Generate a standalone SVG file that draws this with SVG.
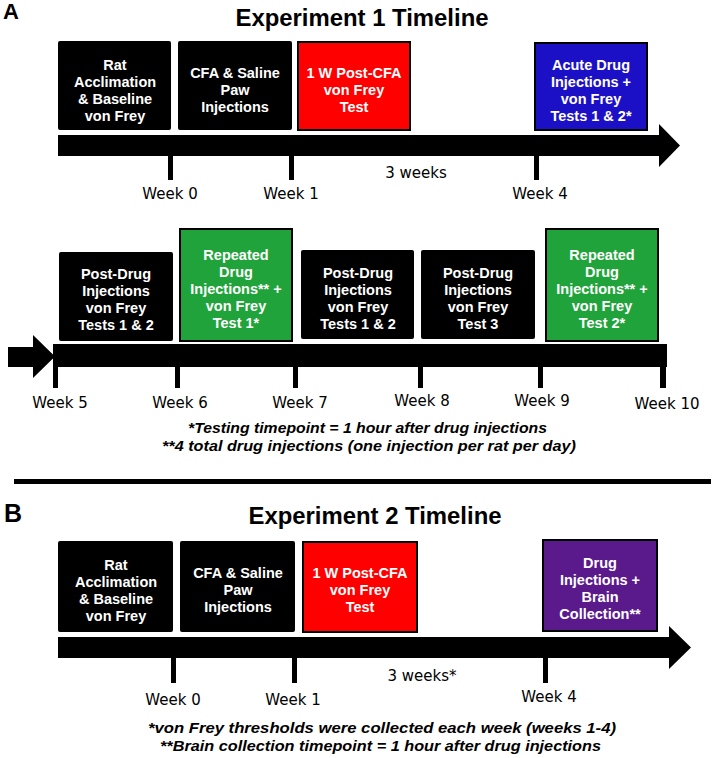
<svg xmlns="http://www.w3.org/2000/svg" width="714" height="758" viewBox="0 0 714 758">
<style>
.bg{fill:#fff}
.box{stroke:#000;stroke-width:2}
.blk{fill:#000}
.red{fill:#fe0000}
.blue{fill:#1c10c6}
.green{fill:#21a33b}
.purple{fill:#5a1a8c}
.bt{font-family:"Liberation Sans",Arial,sans-serif;font-weight:bold;font-size:14.5px;fill:#fff;text-anchor:middle}
.title{font-family:"Liberation Sans",Arial,sans-serif;font-weight:bold;font-size:24px;fill:#000;text-anchor:middle}
.panel{font-family:"Liberation Sans",Arial,sans-serif;font-weight:bold;fill:#000}
.wk{font-family:"DejaVu Sans",sans-serif;font-size:15px;fill:#000;text-anchor:middle}
.fn{font-family:"Liberation Sans",Arial,sans-serif;font-weight:bold;font-style:italic;font-size:15.5px;fill:#000;text-anchor:middle}
.tl{fill:#000}
</style>
<rect class="bg" x="0" y="0" width="714" height="758"/>

<!-- Panel A -->
<text class="panel" x="3" y="19" font-size="22">A</text>
<text class="title" x="362" y="26" textLength="253" lengthAdjust="spacingAndGlyphs">Experiment 1 Timeline</text>

<g id="connectors">
  <!-- A row 1 timeline -->
  <polygon class="tl" points="58,135 659,135 659,124 680,145.5 659,167 659,156 58,156"/>
  <rect class="tl" x="168" y="155" width="5" height="25"/>
  <rect class="tl" x="289" y="155" width="5" height="25"/>
  <rect class="tl" x="534" y="155" width="5" height="25"/>
  <!-- A row 2 timeline -->
  <polygon class="tl" points="8,347 33,347 33,335 55,356.5 33,378 33,367 8,367"/>
  <rect class="tl" x="53" y="344" width="614" height="23"/>
  <rect class="tl" x="53" y="366" width="5" height="22"/>
  <rect class="tl" x="175" y="366" width="5" height="22"/>
  <rect class="tl" x="293" y="366" width="5" height="22"/>
  <rect class="tl" x="418" y="366" width="5" height="22"/>
  <rect class="tl" x="538" y="366" width="5" height="22"/>
  <rect class="tl" x="660" y="366" width="6" height="22"/>
  <!-- separator -->
  <rect class="tl" x="14" y="479" width="697" height="5"/>
  <!-- B timeline -->
  <polygon class="tl" points="58,637 669,637 669,626 691,647.5 669,669 669,658 58,658"/>
  <rect class="tl" x="171" y="657" width="5" height="26"/>
  <rect class="tl" x="292" y="657" width="5" height="26"/>
  <rect class="tl" x="543" y="657" width="5" height="26"/>
</g>

<g id="a-labels">
  <text class="wk" x="170" y="199">Week 0</text>
  <text class="wk" x="291" y="199">Week 1</text>
  <text class="wk" x="416" y="178">3 weeks</text>
  <text class="wk" x="540" y="199">Week 4</text>
  <text class="wk" x="60" y="408">Week 5</text>
  <text class="wk" x="180" y="408">Week 6</text>
  <text class="wk" x="300" y="408">Week 7</text>
  <text class="wk" x="422" y="406">Week 8</text>
  <text class="wk" x="542" y="406">Week 9</text>
  <text class="wk" x="667" y="409">Week 10</text>
  <text class="fn" x="367.5" y="433" textLength="359" lengthAdjust="spacingAndGlyphs">*Testing timepoint = 1 hour after drug injections</text>
  <text class="fn" x="369" y="451" textLength="414" lengthAdjust="spacingAndGlyphs">**4 total drug injections (one injection per rat per day)</text>
</g>

<g id="a-rat">
  <rect class="blk" x="58" y="41" width="113" height="89" rx="2"/>
  <text class="bt" x="115" y="70">Rat</text>
  <text class="bt" x="115" y="87">Acclimation</text>
  <text class="bt" x="115" y="104">&amp; Baseline</text>
  <text class="bt" x="115" y="121">von Frey</text>
</g>
<g id="a-cfa">
  <rect class="blk" x="178" y="41" width="114" height="89" rx="2"/>
  <text class="bt" x="235" y="78">CFA &amp; Saline</text>
  <text class="bt" x="235" y="95">Paw</text>
  <text class="bt" x="235" y="112">Injections</text>
</g>
<g id="a-post-cfa">
  <rect class="box red" x="298" y="42" width="112" height="88"/>
  <text class="bt" x="354" y="78">1 W Post-CFA</text>
  <text class="bt" x="354" y="95">von Frey</text>
  <text class="bt" x="354" y="112">Test</text>
</g>
<g id="a-acute">
  <rect class="box blue" x="535" y="43" width="112" height="87"/>
  <text class="bt" x="591" y="70">Acute Drug</text>
  <text class="bt" x="591" y="87">Injections +</text>
  <text class="bt" x="591" y="104">von Frey</text>
  <text class="bt" x="591" y="121">Tests 1 &amp; 2*</text>
</g>

<g id="a-postdrug1">
  <rect class="blk" x="59" y="252" width="114" height="89" rx="2"/>
  <text class="bt" x="116" y="279">Post-Drug</text>
  <text class="bt" x="116" y="296">Injections</text>
  <text class="bt" x="116" y="313">von Frey</text>
  <text class="bt" x="116" y="330">Tests 1 &amp; 2</text>
</g>
<g id="a-repeated1">
  <rect class="box green" x="180" y="229" width="112" height="112"/>
  <text class="bt" x="236" y="260">Repeated</text>
  <text class="bt" x="236" y="277">Drug</text>
  <text class="bt" x="236" y="294">Injections** +</text>
  <text class="bt" x="236" y="311">von Frey</text>
  <text class="bt" x="236" y="328">Test 1*</text>
</g>
<g id="a-postdrug2">
  <rect class="blk" x="301" y="250" width="113" height="89" rx="2"/>
  <text class="bt" x="358" y="278">Post-Drug</text>
  <text class="bt" x="358" y="295">Injections</text>
  <text class="bt" x="358" y="312">von Frey</text>
  <text class="bt" x="358" y="329">Tests 1 &amp; 2</text>
</g>
<g id="a-postdrug3">
  <rect class="blk" x="421" y="250" width="114" height="89" rx="2"/>
  <text class="bt" x="478" y="278">Post-Drug</text>
  <text class="bt" x="478" y="295">Injections</text>
  <text class="bt" x="478" y="312">von Frey</text>
  <text class="bt" x="478" y="329">Test 3</text>
</g>
<g id="a-repeated2">
  <rect class="box green" x="546" y="229" width="112" height="112"/>
  <text class="bt" x="602" y="260">Repeated</text>
  <text class="bt" x="602" y="277">Drug</text>
  <text class="bt" x="602" y="294">Injections** +</text>
  <text class="bt" x="602" y="311">von Frey</text>
  <text class="bt" x="602" y="328">Test 2*</text>
</g>

<!-- Panel B -->
<text class="panel" x="4" y="522" font-size="25">B</text>
<text class="title" x="375" y="524" textLength="253" lengthAdjust="spacingAndGlyphs">Experiment 2 Timeline</text>

<g id="b-labels">
  <text class="wk" x="173" y="705">Week 0</text>
  <text class="wk" x="293" y="705">Week 1</text>
  <text class="wk" x="422" y="681">3 weeks*</text>
  <text class="wk" x="549" y="702">Week 4</text>
  <text class="fn" x="382" y="733" textLength="468" lengthAdjust="spacingAndGlyphs">*von Frey thresholds were collected each week (weeks 1-4)</text>
  <text class="fn" x="380.5" y="751" textLength="441" lengthAdjust="spacingAndGlyphs">**Brain collection timepoint = 1 hour after drug injections</text>
</g>

<g id="b-rat">
  <rect class="blk" x="58" y="541" width="115" height="91" rx="2"/>
  <text class="bt" x="116" y="570">Rat</text>
  <text class="bt" x="116" y="587">Acclimation</text>
  <text class="bt" x="116" y="604">&amp; Baseline</text>
  <text class="bt" x="116" y="621">von Frey</text>
</g>
<g id="b-cfa">
  <rect class="blk" x="180" y="541" width="115" height="91" rx="2"/>
  <text class="bt" x="238" y="578">CFA &amp; Saline</text>
  <text class="bt" x="238" y="595">Paw</text>
  <text class="bt" x="238" y="612">Injections</text>
</g>
<g id="b-post-cfa">
  <rect class="box red" x="303" y="542" width="114" height="90"/>
  <text class="bt" x="360" y="578">1 W Post-CFA</text>
  <text class="bt" x="360" y="595">von Frey</text>
  <text class="bt" x="360" y="612">Test</text>
</g>
<g id="b-drug-brain">
  <rect class="box purple" x="543" y="540" width="114" height="91"/>
  <text class="bt" x="600" y="568">Drug</text>
  <text class="bt" x="600" y="585">Injections +</text>
  <text class="bt" x="600" y="602">Brain</text>
  <text class="bt" x="600" y="619">Collection**</text>
</g>
</svg>
